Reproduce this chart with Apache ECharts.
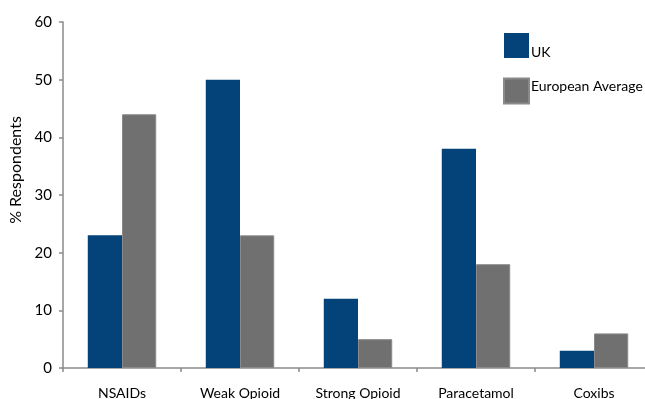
<!DOCTYPE html>
<html>
<head>
<meta charset="utf-8">
<script src="https://cdn.jsdelivr.net/npm/echarts@6/dist/echarts.min.js"></script>
<style>html,body{margin:0;padding:0;background:#fff}#c{width:645px;height:399px}</style>
</head>
<body>
<div id="c"></div>
<script>
const categories = ['NSAIDs', 'Weak Opioid', 'Strong Opioid', 'Paracetamol', 'Coxibs'];
const ukValues = [23, 50, 12, 38, 3];
const euValues = [44, 23, 5, 18, 6];
const seriesNames = ['UK', 'European Average'];
const yTicks = [0, 10, 20, 30, 40, 50, 60];

const FONT = 'Lato, "Open Sans", sans-serif';
const chart = echarts.init(document.getElementById('c'), null, {renderer: 'canvas'});
chart.setOption({
  animation: false,
  textStyle: {fontFamily: FONT},
  grid: {left: 63, right: -8, top: 22, bottom: 31, containLabel: false, outerBoundsMode: 'none'},
  legend: {
    orient: 'vertical', left: 503, top: 33, padding: 0,
    itemWidth: 25, itemHeight: 25, itemGap: 18,
    icon: 'rect',
    textStyle: {
      fontFamily: FONT, fontSize: 14, color: '#000',
      rich: {
        lo: {fontFamily: FONT, fontSize: 14, color: '#000', padding: [14, 0, 0, -3]},
        hi: {fontFamily: FONT, fontSize: 14, color: '#000', padding: [0, 0, 10, -3]}
      }
    },
    formatter: function (name) {
      return name === seriesNames[0] ? '{lo|' + name + '}' : '{hi|' + name + '}';
    },
    data: seriesNames
  },
  xAxis: {
    type: 'category', data: categories,
    axisLine: {lineStyle: {color: '#8a8a8a', width: 1.5}},
    axisTick: {show: true, length: 4, lineStyle: {color: '#8a8a8a', width: 1.5}},
    axisLabel: {fontFamily: FONT, fontSize: 14, color: '#000', margin: 18}
  },
  yAxis: {
    type: 'value', min: yTicks[0], max: yTicks[yTicks.length - 1], interval: 10,
    name: '% Respondents', nameLocation: 'middle', nameGap: 37,
    nameTextStyle: {fontFamily: FONT, fontSize: 16, color: '#000', padding: [0, 0, 0, 50]},
    axisLine: {show: true, lineStyle: {color: '#8a8a8a', width: 1.5}},
    axisTick: {show: true, length: 4, lineStyle: {color: '#8a8a8a', width: 1.5}},
    axisLabel: {fontFamily: FONT, fontSize: 15, color: '#000', margin: 11},
    splitLine: {show: false}
  },
  series: [
    {name: seriesNames[0], type: 'bar', data: ukValues, barGap: '0%', barCategoryGap: '42%',
     itemStyle: {color: '#03437a'}},
    {name: seriesNames[1], type: 'bar', data: euValues, barGap: '0%', barCategoryGap: '42%',
     itemStyle: {color: '#707070', borderColor: '#8a8a8a', borderWidth: 1}}
  ]
});
</script>
</body>
</html>
